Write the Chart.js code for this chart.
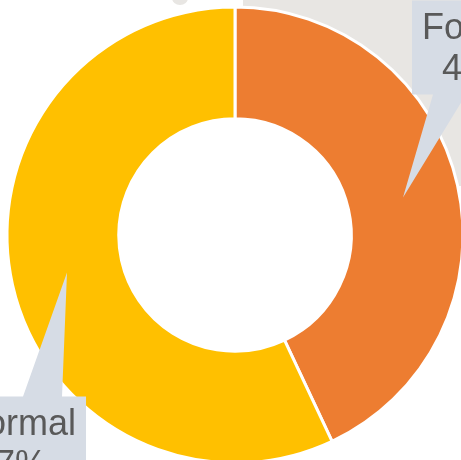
<!DOCTYPE html>
<html>
<head>
<meta charset="utf-8">
<script src="https://cdn.jsdelivr.net/npm/chart.js@4/dist/chart.umd.min.js"></script>
<style>
  html, body { margin: 0; padding: 0; background: #ffffff; overflow: hidden; width: 461px; height: 460px; }
  #wrap { position: absolute; left: 0; top: 0; width: 470px; height: 470px; }
</style>
</head>
<body>
<div id="wrap"><canvas id="c" width="470" height="470"></canvas></div>
<script>
const categories = ['Formal', 'Informal'];
const shares = [43, 57];
const percentLabels = ['43%', '57%'];
const sliceColors = ['#ED7D31', '#FFC000'];

// callout placement relative to each slice's centre point (layout only)
const calloutLayout = [
  { dx: 75, dy: -150, side: 'bottom', baseFrom: -45, baseTo: -12 },
  { dx: -56, dy: 171, side: 'top', baseFrom: 12, baseTo: 51 }
];

const FONT = '36px "Liberation Sans", Arial, sans-serif';

const backdrop = {
  id: 'backdrop',
  beforeDatasetsDraw(chart) {
    const ctx = chart.ctx;
    const arc = chart.getDatasetMeta(0).data[0];
    ctx.save();
    ctx.fillStyle = '#E8E6E3';
    ctx.fillRect(243, 0, 230, 186);
    ctx.beginPath();
    ctx.ellipse(180, -2, 8, 7, 0, 0, Math.PI * 2);
    ctx.fill();
    if (arc) {
      ctx.fillStyle = '#ffffff';
      ctx.beginPath();
      ctx.arc(arc.x, arc.y, arc.innerRadius + 1, 0, Math.PI * 2);
      ctx.fill();
    }
    ctx.restore();
  }
};

const callouts = {
  id: 'callouts',
  afterDatasetsDraw(chart) {
    const ctx = chart.ctx;
    const arcs = chart.getDatasetMeta(0).data;
    ctx.save();
    ctx.font = FONT;
    arcs.forEach((arc, i) => {
      const tip = arc.tooltipPosition();
      const L = calloutLayout[i];
      const lines = [categories[i], percentLabels[i]];
      const w = Math.max(...lines.map(t => ctx.measureText(t).width)) + 20;
      const h = 94;
      const cx = tip.x + L.dx, cy = tip.y + L.dy;
      const x0 = cx - w / 2, x1 = cx + w / 2, y0 = cy - h / 2, y1 = cy + h / 2;
      ctx.fillStyle = '#D6DCE5';
      ctx.beginPath();
      if (L.side === 'bottom') {
        ctx.moveTo(x0, y0); ctx.lineTo(x1, y0); ctx.lineTo(x1, y1);
        ctx.lineTo(cx + L.baseTo, y1); ctx.lineTo(tip.x, tip.y); ctx.lineTo(cx + L.baseFrom, y1);
        ctx.lineTo(x0, y1);
      } else {
        ctx.moveTo(x0, y0); ctx.lineTo(cx + L.baseFrom, y0); ctx.lineTo(tip.x, tip.y);
        ctx.lineTo(cx + L.baseTo, y0); ctx.lineTo(x1, y0); ctx.lineTo(x1, y1); ctx.lineTo(x0, y1);
      }
      ctx.closePath();
      ctx.fill();
      ctx.fillStyle = '#595959';
      ctx.textAlign = 'center';
      ctx.textBaseline = 'alphabetic';
      ctx.fillText(lines[0], cx, cy - 8.5);
      ctx.fillText(lines[1], cx, cy + 32.5);
    });
    ctx.restore();
  }
};

new Chart(document.getElementById('c'), {
  type: 'doughnut',
  data: {
    labels: categories,
    datasets: [{
      data: shares,
      backgroundColor: sliceColors,
      borderColor: '#ffffff',
      borderWidth: 3,
      hoverOffset: 0,
      offset: 0
    }]
  },
  options: {
    responsive: false,
    devicePixelRatio: 1,
    animation: false,
    events: [],
    cutout: '51%',
    layout: { padding: 5.5 },
    plugins: {
      legend: { display: false },
      tooltip: { enabled: false }
    }
  },
  plugins: [backdrop, callouts]
});
</script>
</body>
</html>
